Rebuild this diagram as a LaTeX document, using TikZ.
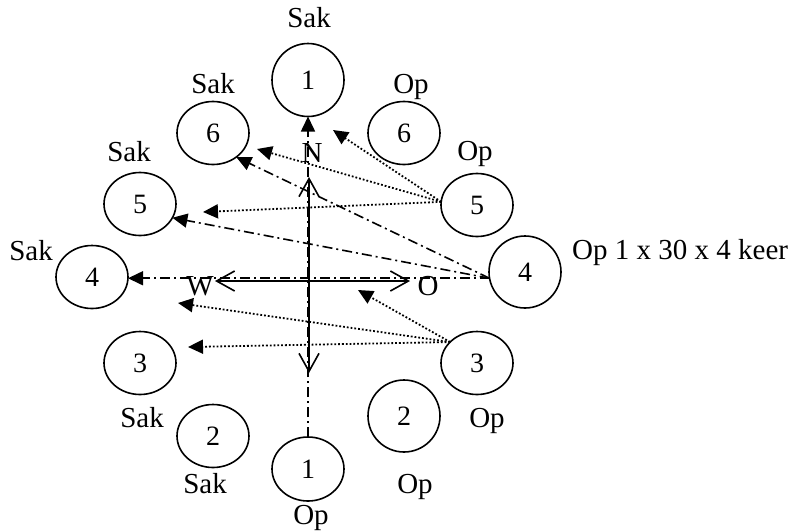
\documentclass[tikz,border=0pt]{standalone}
\usepackage{fontspec}
\setmainfont{Liberation Serif}
\usetikzlibrary{arrows.meta,shapes.geometric}

\begin{document}
\begin{tikzpicture}[x=1pt, y=-1pt,
  >={Triangle[length=15pt, width=14pt]},
  axtip/.tip={Straight Barb[length=18pt, width=20pt]},
  spot/.style={draw, ellipse, line width=1.6pt, inner sep=0pt, outer sep=0pt, minimum width=72pt, minimum height=63pt, font=\fontsize{28}{30}\selectfont},
  rspot/.style={spot, minimum height=73pt},
  lbl/.style={anchor=base, inner sep=0pt, font=\fontsize{29}{32}\selectfont},
  dd/.style={->, line width=1.6pt, dash pattern=on 10pt off 4pt on 2pt off 4pt},
  dotarr/.style={->, line width=1.8pt, dash pattern=on 1.8pt off 2pt},
  axis/.style={axtip-axtip, line width=1.6pt}]
  \useasboundingbox (0,0) rectangle (811,531);
  % left side (Sak)
  \node[rspot] (sak1) at (308,80) {1};
  \node[spot] (sak6) at (213,133) {6};
  \node[spot] (sak5) at (140,204) {5};
  \node[spot] (sak4) at (92,277) {4};
  \node[spot] (sak3) at (140,363) {3};
  \node[spot] (sak2) at (213,436) {2};
  % right side (Op)
  \node[spot] (op6) at (404,133) {6};
  \node[spot] (op5) at (477,205) {5};
  \node[rspot, minimum height=72pt] (op4) at (525,272) {4};
  \node[spot] (op3) at (477,363) {3};
  \node[rspot, minimum height=72pt] (op2) at (404,416) {2};
  \node[spot, minimum height=64pt] (op1) at (308,469) {1};
  % labels
  \node[lbl] (lsak1) at (309,27) {Sak};
  \node[lbl] (lsak6) at (213,93) {Sak};
  \node[lbl] (lsak5) at (129,161) {Sak};
  \node[lbl] (lsak4) at (31,260) {Sak};
  \node[lbl] (lsak3) at (142,427) {Sak};
  \node[lbl] (lsak2) at (205,493) {Sak};
  \node[lbl] (lop6) at (411,93) {Op};
  \node[lbl] (lop5) at (475,160) {Op};
  \node[lbl, anchor=base west] (lop4) at (572,259) {Op 1 x 30 x 4 keer};
  \node[lbl] (lop3) at (487,427) {Op};
  \node[lbl] (lop2) at (415,493) {Op};
  \node[lbl] (lop1) at (311,524) {Op};
  % compass
  \node[lbl] (N) at (312,162) {N};
  \node[lbl] (W) at (200,295) {W};
  \node[lbl] (O) at (428,295) {O};
  \coordinate (axN) at (309,177);
  \coordinate (axS) at (309,373);
  \coordinate (axW) at (215,281);
  \coordinate (axO) at (410,281);
  \draw[axis] (axN) -- (axS);
  \draw[axis] (axW) -- (axO);
  % dash-dot arrows
  \draw[dd] (op1.north) -- (sak1.south);
  \draw[dd] (op4.190) -- (op4.190 -| sak4.east);
  \draw[dd] (op4.190) -- (sak6.-46);
  \draw[dd] (op4.190) -- (sak5.-23);
  % dotted arrows
  \coordinate (tN) at (333,130);
  \coordinate (tSix) at (257,149);
  \coordinate (tFive) at (203,212);
  \coordinate (tO) at (358,290);
  \coordinate (tW) at (178,303);
  \coordinate (tThree) at (188,347);
  \draw[dotarr] (op5.175) -- (tN);
  \draw[dotarr] (op5.175) -- (tSix);
  \draw[dotarr] (op5.175) -- (tFive);
  \draw[dotarr] (op3.142) -- (tO);
  \draw[dotarr] (op3.142) -- (tW);
  \draw[dotarr] (op3.142) -- (tThree);
\end{tikzpicture}
\end{document}
